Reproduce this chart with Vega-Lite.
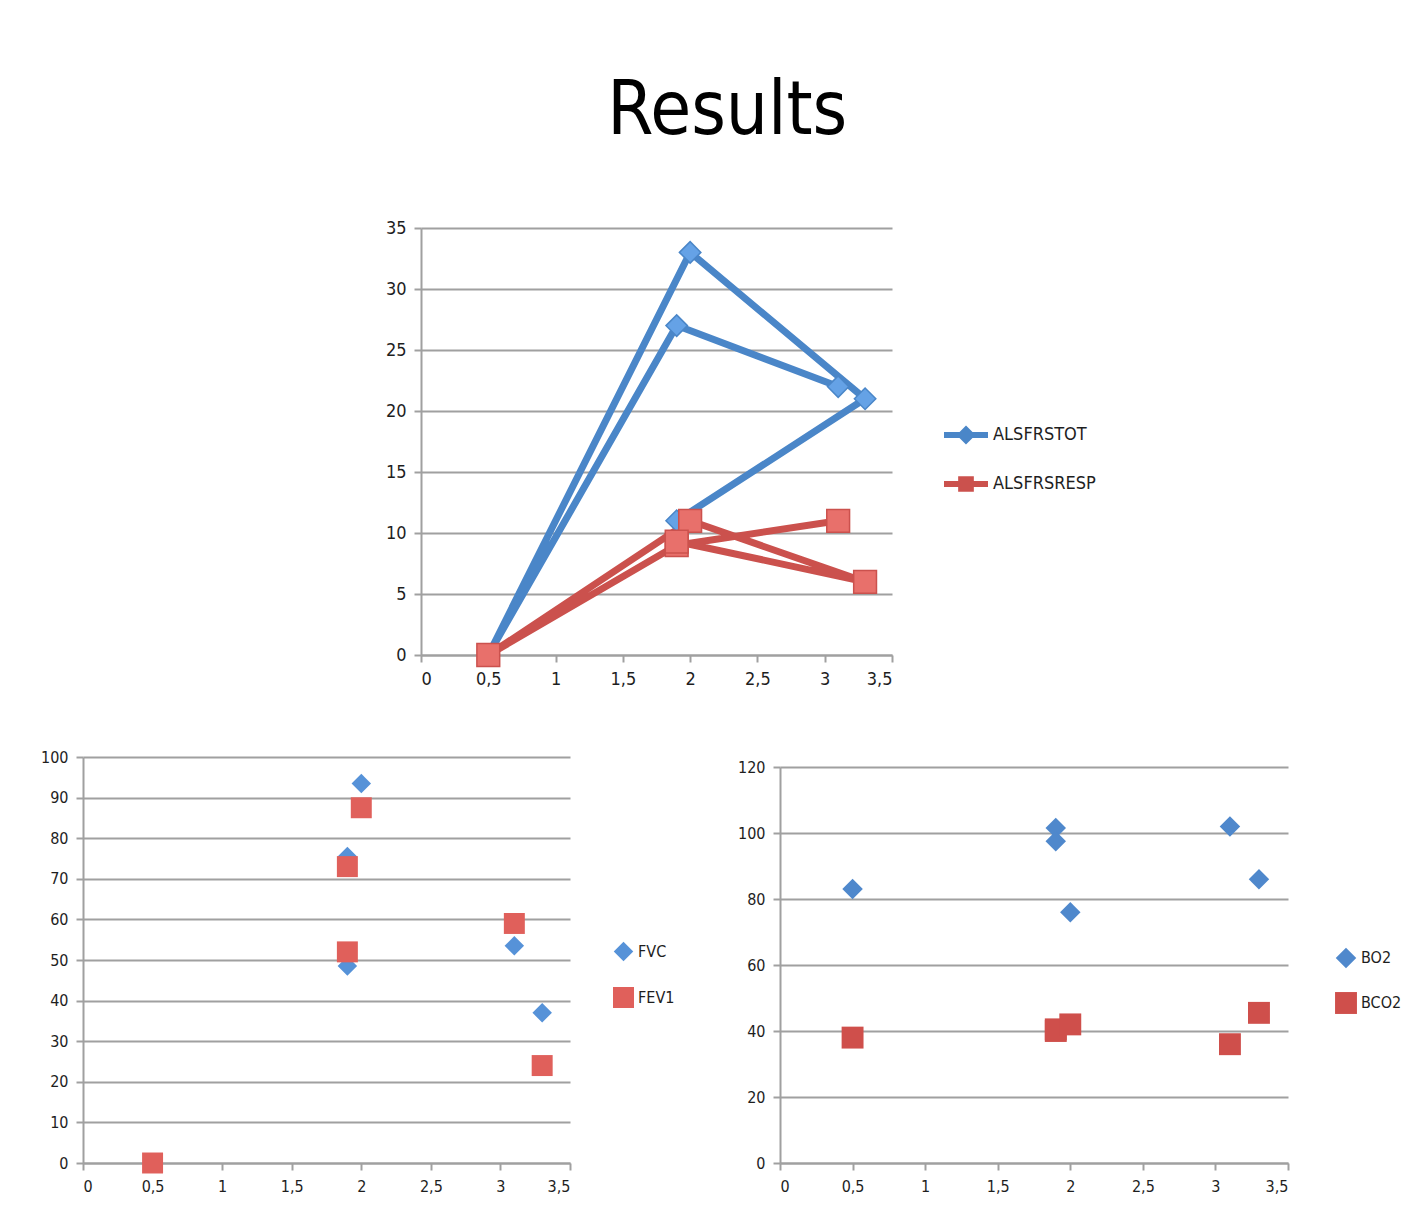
{
  "$schema": "https://vega.github.io/schema/vega-lite/v6.json",
  "background": "white",
  "padding": {"left": 40, "top": 75, "right": 0, "bottom": 0},
  "title": {
    "text": "Results",
    "fontSize": 74,
    "font": "DejaVu Sans Condensed, DejaVu Sans, sans-serif",
    "fontWeight": "normal",
    "color": "#000000",
    "anchor": "middle",
    "dx": 6,
    "offset": 69
  },
  "config": {
    "view": {"stroke": null},
    "axis": {
      "title": null,
      "domainColor": "#a0a0a0",
      "domainWidth": 2,
      "tickColor": "#a0a0a0",
      "tickWidth": 2,
      "tickSize": 7,
      "gridColor": "#a0a0a0",
      "gridWidth": 2,
      "labelFont": "DejaVu Sans Condensed, DejaVu Sans, sans-serif",
      "labelColor": "#1e1e1e",
      "labelFontSize": 17
    },
    "axisX": {"grid": false, "labelPadding": 8},
    "axisY": {"grid": true, "labelPadding": 8},
    "legend": {
      "title": null,
      "labelFont": "DejaVu Sans Condensed, DejaVu Sans, sans-serif",
      "labelColor": "#1e1e1e"
    }
  },
  "datasets": {
    "alsfrs": [
      {"series": "ALSFRSTOT", "ord": 1, "x": 3.1, "y": 22},
      {"series": "ALSFRSTOT", "ord": 2, "x": 1.9, "y": 27},
      {"series": "ALSFRSTOT", "ord": 3, "x": 0.5, "y": 0},
      {"series": "ALSFRSTOT", "ord": 4, "x": 2.0, "y": 33},
      {"series": "ALSFRSTOT", "ord": 5, "x": 3.3, "y": 21},
      {"series": "ALSFRSTOT", "ord": 6, "x": 1.9, "y": 11},
      {"series": "ALSFRSRESP", "ord": 1, "x": 3.1, "y": 11},
      {"series": "ALSFRSRESP", "ord": 2, "x": 1.9, "y": 9},
      {"series": "ALSFRSRESP", "ord": 3, "x": 0.5, "y": 0},
      {"series": "ALSFRSRESP", "ord": 4, "x": 2.0, "y": 11},
      {"series": "ALSFRSRESP", "ord": 5, "x": 3.3, "y": 6},
      {"series": "ALSFRSRESP", "ord": 6, "x": 1.9, "y": 9.3}
    ],
    "pulm": [
      {"series": "FVC", "x": 0.5, "y": 0},
      {"series": "FVC", "x": 1.9, "y": 75.5},
      {"series": "FVC", "x": 1.9, "y": 48.5},
      {"series": "FVC", "x": 2.0, "y": 93.5},
      {"series": "FVC", "x": 3.1, "y": 53.5},
      {"series": "FVC", "x": 3.3, "y": 37},
      {"series": "FEV1", "x": 0.5, "y": 0},
      {"series": "FEV1", "x": 1.9, "y": 73},
      {"series": "FEV1", "x": 1.9, "y": 52},
      {"series": "FEV1", "x": 2.0, "y": 87.5},
      {"series": "FEV1", "x": 3.1, "y": 59},
      {"series": "FEV1", "x": 3.3, "y": 24}
    ],
    "gas": [
      {"series": "BO2", "x": 0.5, "y": 83},
      {"series": "BO2", "x": 1.9, "y": 101.5},
      {"series": "BO2", "x": 1.9, "y": 97.5},
      {"series": "BO2", "x": 2.0, "y": 76},
      {"series": "BO2", "x": 3.1, "y": 102},
      {"series": "BO2", "x": 3.3, "y": 86},
      {"series": "BCO2", "x": 0.5, "y": 38},
      {"series": "BCO2", "x": 1.9, "y": 40},
      {"series": "BCO2", "x": 1.9, "y": 40.5},
      {"series": "BCO2", "x": 2.0, "y": 42},
      {"series": "BCO2", "x": 3.1, "y": 36},
      {"series": "BCO2", "x": 3.3, "y": 45.5}
    ],
    "blank": [{"k": 1}]
  },
  "resolve": {
    "scale": {"color": "independent", "shape": "independent", "size": "independent"},
    "legend": {"color": "independent", "shape": "independent", "size": "independent"}
  },
  "vconcat": [
    {
      "resolve": {
        "scale": {"color": "independent"},
        "legend": {"color": "independent"}
      },
      "spacing": 20,
      "hconcat": [
        {
          "width": 282,
          "height": 1,
          "data": {"name": "blank"},
          "mark": {"type": "point", "opacity": 0}
        },
        {
          "width": 471,
          "height": 427,
          "data": {"name": "alsfrs"},
          "encoding": {
            "x": {
              "field": "x", "type": "quantitative",
              "scale": {"domain": [0, 3.5], "nice": false},
              "axis": {"values": [0, 0.5, 1, 1.5, 2, 2.5, 3, 3.5], "labelExpr": "replace(format(datum.value, '~g'), '.', ',')", "labelFontSize": 18}
            },
            "y": {
              "field": "y", "type": "quantitative",
              "scale": {"domain": [0, 35], "nice": false},
              "axis": {"values": [0, 5, 10, 15, 20, 25, 30, 35], "labelFontSize": 18}
            }
          },
          "layer": [
            {
              "mark": {"type": "line", "strokeWidth": 7, "strokeJoin": "round"},
              "encoding": {
                "order": {"field": "ord", "type": "quantitative"},
                "color": {
                  "field": "series", "type": "nominal",
                  "scale": {"domain": ["ALSFRSTOT", "ALSFRSRESP"], "range": ["#4a86c8", "#cb514d"]},
                  "legend": {
                    "orient": "none",
                    "legendX": 520,
                    "legendY": 182,
                    "symbolSize": 1936,
                    "symbolStrokeWidth": 6,
                    "rowPadding": 6,
                    "labelOffset": 2,
                    "labelFontSize": 18,
                    "encode": {
                      "symbols": {
                        "update": {
                          "shape": {"signal": "datum.value == 'ALSFRSTOT' ? 'M-1,0H1M-0.24,0L0,-0.24L0.24,0L0,0.24Z' : 'M-1,0H1M-0.22,-0.22H0.22V0.22H-0.22Z'"},
                          "fill": {"signal": "datum.value == 'ALSFRSTOT' ? '#65a2e6' : '#e8706b'"}
                        }
                      }
                    }
                  }
                }
              }
            },
            {
              "transform": [{"filter": "datum.series == 'ALSFRSTOT'"}],
              "mark": {"type": "point", "shape": "diamond", "size": 460, "filled": true, "fill": "#65a2e6", "stroke": "#4a86c8", "strokeWidth": 1.5, "opacity": 1}
            },
            {
              "transform": [{"filter": "datum.series == 'ALSFRSRESP'"}],
              "mark": {"type": "point", "shape": "square", "size": 520, "filled": true, "fill": "#e8706b", "stroke": "#cb514d", "strokeWidth": 1.5, "opacity": 1}
            }
          ]
        }
      ]
    },
    {
      "resolve": {
        "scale": {"color": "independent", "shape": "independent", "size": "independent"},
        "legend": {"color": "independent", "shape": "independent", "size": "independent"}
      },
      "spacing": 62,
      "hconcat": [
        {
          "width": 487,
          "height": 406,
          "data": {"name": "pulm"},
          "mark": {"type": "point", "filled": true, "opacity": 1, "strokeWidth": 1},
          "encoding": {
            "x": {
              "field": "x", "type": "quantitative",
              "scale": {"domain": [0, 3.5], "nice": false},
              "axis": {"values": [0, 0.5, 1, 1.5, 2, 2.5, 3, 3.5], "labelExpr": "replace(format(datum.value, '~g'), '.', ',')", "labelFontSize": 16}
            },
            "y": {
              "field": "y", "type": "quantitative",
              "scale": {"domain": [0, 100], "nice": false},
              "axis": {"values": [0, 10, 20, 30, 40, 50, 60, 70, 80, 90, 100], "labelFontSize": 16}
            },
            "color": {
              "field": "series", "type": "nominal",
              "scale": {"domain": ["FVC", "FEV1"], "range": ["#5692d8", "#e0605b"]},
              "legend": {
                "orient": "none",
                "legendX": 529,
                "legendY": 184,
                "symbolSize": 150,
                "rowPadding": 24,
                "labelOffset": 3,
                "labelFontSize": 16
              }
            },
            "shape": {
              "field": "series", "type": "nominal",
              "scale": {"domain": ["FVC", "FEV1"], "range": ["diamond", "square"]}
            },
            "size": {
              "field": "series", "type": "nominal",
              "scale": {"domain": ["FVC", "FEV1"], "range": [380, 440]},
              "legend": null
            }
          }
        },
        {
          "spacing": -2,
          "vconcat": [
            {
              "width": 508,
              "height": 1,
              "data": {"name": "blank"},
              "mark": {"type": "point", "opacity": 0}
            },
            {
              "width": 508,
              "height": 396,
              "data": {"name": "gas"},
              "mark": {"type": "point", "filled": true, "opacity": 1, "strokeWidth": 1},
              "encoding": {
                "x": {
                  "field": "x", "type": "quantitative",
                  "scale": {"domain": [0, 3.5], "nice": false},
                  "axis": {"values": [0, 0.5, 1, 1.5, 2, 2.5, 3, 3.5], "labelExpr": "replace(format(datum.value, '~g'), '.', ',')", "labelFontSize": 16}
                },
                "y": {
                  "field": "y", "type": "quantitative",
                  "scale": {"domain": [0, 120], "nice": false},
                  "axis": {"values": [0, 20, 40, 60, 80, 100, 120], "labelFontSize": 16}
                },
                "color": {
                  "field": "series", "type": "nominal",
                  "scale": {"domain": ["BO2", "BCO2"], "range": ["#4f88cc", "#cf4f4b"]},
                  "legend": {
                    "orient": "none",
                    "legendX": 554,
                    "legendY": 190,
                    "symbolSize": 150,
                    "rowPadding": 22,
                    "labelOffset": 3,
                    "labelFontSize": 16
                  }
                },
                "shape": {
                  "field": "series", "type": "nominal",
                  "scale": {"domain": ["BO2", "BCO2"], "range": ["diamond", "square"]}
                },
                "size": {
                  "field": "series", "type": "nominal",
                  "scale": {"domain": ["BO2", "BCO2"], "range": [420, 480]},
                  "legend": null
                }
              }
            }
          ]
        }
      ]
    }
  ],
  "spacing": 61
}
